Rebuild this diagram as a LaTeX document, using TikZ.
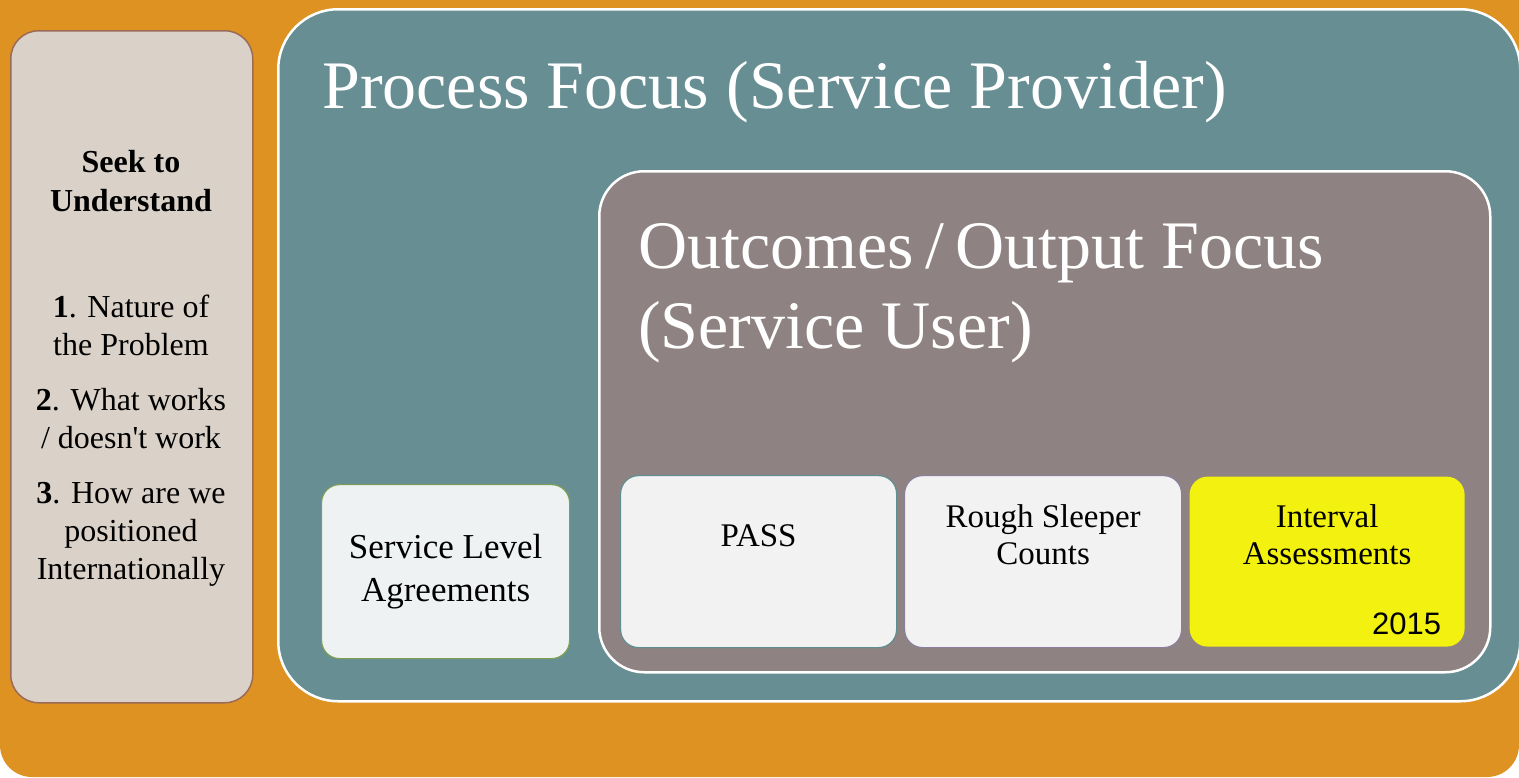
\documentclass[tikz,border=0pt]{standalone}
\usepackage{fontspec}
\setmainfont{Liberation Serif}
\newfontfamily\arialfont{Liberation Sans}
\definecolor{orangebg}{HTML}{DD9221}
\definecolor{tealpanel}{HTML}{678F93}
\definecolor{greypanel}{HTML}{8E8382}
\definecolor{seekfill}{HTML}{DAD2C8}
\definecolor{seekline}{HTML}{9B6B58}
\definecolor{slafill}{HTML}{EEF2F3}
\definecolor{slaline}{HTML}{7E9D55}
\definecolor{cardfill}{HTML}{F2F2F2}
\definecolor{passline}{HTML}{5F8E91}
\definecolor{roughline}{HTML}{8C7F9E}
\definecolor{ivalfill}{HTML}{F3F10F}

\begin{document}
\begin{tikzpicture}[x=1pt,y=-1pt,
  panel/.style={draw=white, line width=2.5pt, inner sep=0pt, anchor=north west},
  card/.style={rounded corners=18, line width=1.2pt, inner sep=0pt, anchor=north west, align=center},
  cardtext/.style={font=\fontsize{33}{37}\selectfont, align=center, inner sep=0pt},
  bigtitle/.style={white, font=\fontsize{68}{80}\selectfont, inner sep=0pt}]
 \useasboundingbox (0,0) rectangle (1519,777);
 \fill [white] (0,0) rectangle (1519,777);
 \clip (0,0) rectangle (1519,777);
 \fill [orangebg, rounded corners=32] (0,-100) rectangle (1519,777);

 \node [panel, draw=seekline, line width=1.5pt, fill=seekfill, rounded corners=28,
   minimum width=242, minimum height=672] (seek) at (10,30) {};
 \node [font=\bfseries\fontsize{32}{39}\selectfont, align=center, inner sep=0pt, anchor=north]
   (seekhead) at (131,150) {Seek to\\Understand};
 \node [font=\fontsize{32}{38}\selectfont, align=center, inner sep=0pt, anchor=north]
   (seekitems) at (131,295) {\textbf{1}. Nature of\\the Problem\\[17pt]
   \textbf{2}. What works\\/ doesn\textquotesingle t work\\[17pt]
   \textbf{3}. How are we\\positioned\\Internationally};

 \node [panel, fill=tealpanel, rounded corners=60,
   minimum width=1242, minimum height=692] (proc) at (277,8) {};
 \node [bigtitle, anchor=base west] (proctitle) at (322,108) {Process Focus (Service Provider)};

 \node [panel, fill=greypanel, rounded corners=45,
   minimum width=891, minimum height=501] (outc) at (598,170) {};
 \node [bigtitle, align=left, anchor=north west] (outctitle) at (638,223)
   {Outcomes\,/\,Output Focus\\(Service User)};

 \node [card, fill=slafill, draw=slaline, minimum width=248, minimum height=174,
   font=\fontsize{35}{43}\selectfont] (sla) at (321,484) {Service Level\\Agreements};
 \node [card, fill=cardfill, draw=passline, minimum width=276, minimum height=172] (pass) at (620,475) {};
 \node [card, fill=cardfill, draw=roughline, minimum width=277, minimum height=172] (rough) at (904,475) {};
 \node [card, fill=ivalfill, minimum width=275, minimum height=170] (ival) at (1189,476) {};

 \node [cardtext] (passtext) at ([yshift=-61pt]pass.north) {PASS};
 \node [cardtext] (roughtext) at ([yshift=-60pt]rough.north) {Rough Sleeper\\Counts};
 \node [cardtext] (ivaltext) at ([yshift=-59pt]ival.north) {Interval\\Assessments};
 \node [font=\arialfont\fontsize{31}{36}\selectfont, inner sep=0pt, anchor=base east]
   (ivalyear) at ([xshift=-24pt,yshift=13pt]ival.south east) {2015};
\end{tikzpicture}
\end{document}
